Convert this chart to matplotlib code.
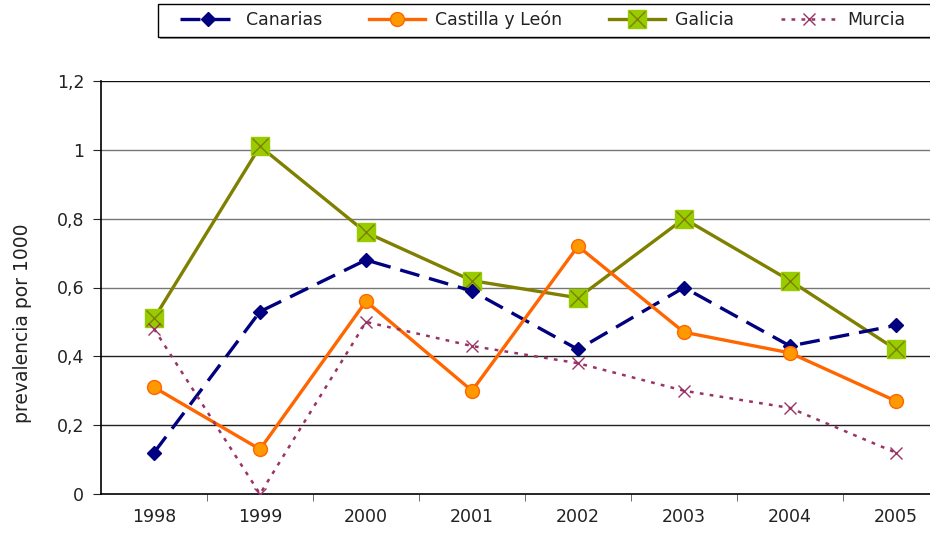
import matplotlib
matplotlib.use("Agg")

import matplotlib.pyplot as plt
from matplotlib.legend_handler import HandlerTuple
from matplotlib.patches import Rectangle
from matplotlib.ticker import FuncFormatter
import numpy as np

years = ["1998", "1999", "2000", "2001", "2002", "2003", "2004", "2005"]
canarias = [0.12, 0.53, 0.68, 0.59, 0.42, 0.60, 0.43, 0.49]
castilla = [0.31, 0.13, 0.56, 0.30, 0.72, 0.47, 0.41, 0.27]
galicia = [0.51, 1.01, 0.76, 0.62, 0.57, 0.80, 0.62, 0.42]
murcia = [0.48, 0.00, 0.50, 0.43, 0.38, 0.30, 0.25, 0.12]
series_names = ["Canarias", "Castilla y León", "Galicia", "Murcia"]
y_ticks = [0, 0.2, 0.4, 0.6, 0.8, 1.0, 1.2]

plt.rcParams["font.family"] = "DejaVu Sans"

W, H = 930, 537
fig = plt.figure(figsize=(W / 100, H / 100), dpi=100)
ax = fig.add_axes([101 / W, 1 - 494 / H, 848 / W, 413 / H])

x = np.arange(len(years))

l_can, = ax.plot(x, canarias, color="#000080", lw=2.4, dashes=(6, 3),
                 marker="D", ms=7.5, mfc="#000080", mec="#000080", zorder=4)
l_cas, = ax.plot(x, castilla, color="#FF6600", lw=2.4,
                 marker="o", ms=10, mfc="#FF9900", mec="#FF6600", mew=1, zorder=4)
l_gal, = ax.plot(x, galicia, color="#808000", lw=2.4,
                 marker="s", ms=12.5, mfc="#99CC00", mec="#99CC00", zorder=3)
x_gal, = ax.plot(x, galicia, ls="none", marker="x", ms=12, mec="#808000",
                 mew=1, zorder=3)
l_mur, = ax.plot(x, murcia, color="#993366", lw=1.8, dashes=(1.5, 2.5),
                 marker="x", ms=9, mec="#993366", mew=1, zorder=5)

ax.set_xlim(-0.5, len(years) - 0.5)
ax.set_ylim(0, 1.2)
ax.set_yticks(y_ticks)
ax.yaxis.set_major_formatter(FuncFormatter(
    lambda v, _: ("%g" % round(v, 1)).replace(".", ",")))
ax.set_xticks(x)
ax.set_xticklabels(years)
ax.set_xticks(np.arange(len(years) - 1) + 0.5, minor=True)
ax.tick_params(axis="x", which="major", length=0, pad=10, labelsize=12.5,
               colors="#222222")
ax.tick_params(axis="x", which="minor", length=5, color="#555555")
ax.tick_params(axis="y", length=6, pad=6, labelsize=12.5, colors="#222222")
ax.tick_params(axis="both", which="both", direction="out")
for t in ax.get_xticklabels() + ax.get_yticklabels():
    t.set_color("#222222")

for sp in ["top", "right"]:
    ax.spines[sp].set_visible(False)
ax.spines["left"].set_linewidth(1.2)
ax.spines["bottom"].set_linewidth(1.2)

grid_colors = ["#000000", "#222222", "#222222", "#777777", "#777777",
               "#777777", "#111111"]
for v, c in zip(y_ticks, grid_colors):
    if v > 0:
        ax.axhline(v, color=c, lw=1, zorder=1)

ax.set_ylabel("prevalencia por 1000", fontsize=13.5, color="#222222")
ax.yaxis.set_label_coords(-0.081, 0.414)

# legend frame drawn separately so the padding matches
fig.patches.append(Rectangle((160 / W, 1 - 39 / H), 780 / W, 35 / H,
                             transform=fig.transFigure, facecolor="#999999",
                             edgecolor="none", zorder=0))
fig.patches.append(Rectangle((158 / W, 1 - 37 / H), 780 / W, 33 / H,
                             transform=fig.transFigure, facecolor="white",
                             edgecolor="black", lw=1, zorder=1))

leg = fig.legend([l_can, l_cas, (l_gal, x_gal), l_mur], series_names,
                 loc="center left", bbox_to_anchor=(180 / W, 1 - 20 / H),
                 ncol=4, frameon=False, fontsize=12.5, handlelength=3.2,
                 handletextpad=0.6, columnspacing=2.7, borderpad=0,
                 borderaxespad=0,
                 handler_map={tuple: HandlerTuple(ndivide=1)})
for t in leg.get_texts():
    t.set_color("#222222")

fig.savefig("out.png", dpi=100)
